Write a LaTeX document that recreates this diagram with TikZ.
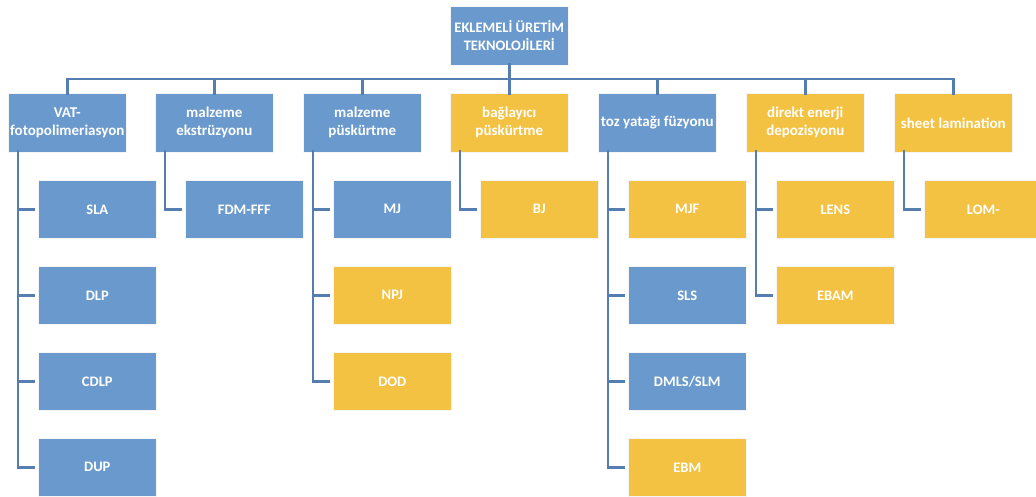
\documentclass[tikz,border=0pt]{standalone}
\usepackage{fontspec}
\setmainfont{Carlito}
\definecolor{bbox}{RGB}{106,154,205}
\definecolor{ybox}{RGB}{244,194,67}
\definecolor{lnk}{RGB}{84,126,176}
\tikzset{
  base/.style={anchor=north west, minimum width=118pt, inner sep=1pt, align=center,
    text=white, draw=white!92!gray, line width=0.6pt},
  rootbox/.style={base, minimum height=59pt, font=\fontsize{14.5}{18}\selectfont\bfseries},
  top/.style={base, minimum height=59pt, font=\fontsize{15}{18}\selectfont\bfseries},
  sub/.style={base, minimum height=58pt, font=\fontsize{14.5}{17}\selectfont\bfseries},
  blue/.style={fill=bbox},
  yel/.style={fill=ybox},
  conn/.style={draw=lnk, line width=2.6pt, line join=miter},
}
\begin{document}
\begin{tikzpicture}[x=1pt,y=-1pt]
\useasboundingbox (0,0) rectangle (1036,497);
\clip (0,0) rectangle (1036,497);
% root
\node[rootbox,blue] (root) at (450,6) {EKLEMELİ ÜRETİM\\TEKNOLOJİLERİ};
% level 1
\node[top,blue] (vat) at (8,93) {VAT-\\fotopolimeriasyon};
\node[top,blue] (ext) at (155,93) {malzeme\\ekstrüzyonu};
\node[top,blue] (jet) at (303,93) {malzeme\\püskürtme};
\node[top,yel] (bin) at (450,93) {bağlayıcı\\püskürtme};
\node[top,blue] (pbf) at (598,93) {toz yatağı füzyonu};
\node[top,yel] (ded) at (746,93) {direkt enerji\\depozisyonu};
\node[top,yel] (sheet) at (894,93) {sheet lamination};
% level 2
\node[sub,blue] (sla) at (38,180) {SLA};
\node[sub,blue] (dlp) at (38,266) {DLP};
\node[sub,blue] (cdlp) at (38,352) {CDLP};
\node[sub,blue] (dup) at (38,438) {DUP};
\node[sub,blue] (fdm) at (185,180) {FDM-FFF};
\node[sub,blue] (mj) at (333,180) {MJ};
\node[sub,yel] (npj) at (333,266) {NPJ};
\node[sub,yel] (dod) at (333,352) {DOD};
\node[sub,yel] (bj) at (480,180) {BJ};
\node[sub,yel] (mjf) at (628,180) {MJF};
\node[sub,blue] (sls) at (628,266) {SLS};
\node[sub,blue] (dmls) at (628,352) {DMLS/SLM};
\node[sub,yel] (ebm) at (628,438) {EBM};
\node[sub,yel] (lens) at (776,180) {LENS};
\node[sub,yel] (ebam) at (776,266) {EBAM};
\node[sub,yel] (lom) at (924,180) {LOM-};
% bus
\coordinate (busL) at (vat.north |- 0,79);
\coordinate (busR) at (sheet.north |- 0,79);
\draw[conn] ([yshift=3pt]root.south) -- (root.south |- busL);
\draw[conn, line cap=rect] (busL) -- (busR);
\foreach \n in {vat,ext,jet,bin,pbf,ded,sheet}
  \draw[conn] (\n.north |- busL) -- ([yshift=-2pt]\n.north);
% children
\foreach \p/\c in {vat/sla,vat/dlp,vat/cdlp,vat/dup,ext/fdm,jet/mj,jet/npj,jet/dod,bin/bj,pbf/mjf,pbf/sls,pbf/dmls,pbf/ebm,ded/lens,ded/ebam,sheet/lom}
  \draw[conn] ([xshift=10pt,yshift=3pt]\p.south west) |- ([xshift=-3pt]\c.west);
\end{tikzpicture}
\end{document}
